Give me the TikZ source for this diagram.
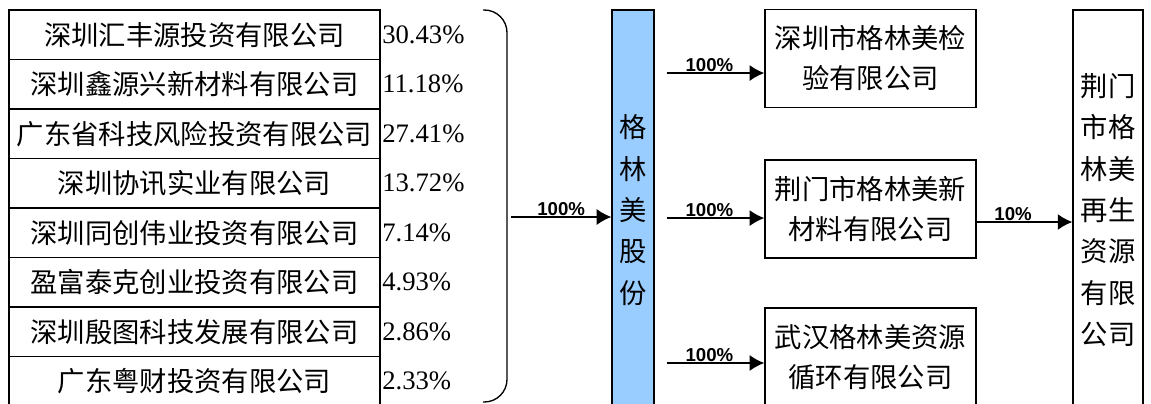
\documentclass[tikz,border=0pt]{standalone}
\usepackage{fontspec}
\setmainfont{Liberation Serif}
\newfontfamily\cjk{Noto Sans CJK SC}
\newfontfamily\lblfont{Liberation Sans}
\usepackage{tikz}
\usetikzlibrary{arrows.meta,positioning}
\definecolor{barblue}{RGB}{153, 204, 255}

\begin{document}
\begin{tikzpicture}[x=0.75pt, y=-0.75pt,
    holder/.style={draw, line width=0.9pt, minimum width=278.25pt, minimum height=37.1pt, inner sep=0pt, font=\cjk\fontsize{20.5}{24}\selectfont},
    pct/.style={anchor=west, inner sep=0pt, font=\fontsize{20}{24}\selectfont},
    subbox/.style={draw, line width=1pt, minimum width=158.25pt, minimum height=73.5pt, align=center, inner sep=0pt, font=\cjk\fontsize{20.5}{30}\selectfont},
    tallbox/.style={draw, line width=0.9pt, minimum height=300pt, inner sep=0pt, align=center, font=\cjk\fontsize{20.5}{31}\selectfont},
    arr/.style={-{Latex[length=11pt,width=12pt]}, line width=1.2pt},
    share/.style={font=\lblfont\bfseries\fontsize{14}{14}\selectfont, inner sep=0.5pt, above}]
    \useasboundingbox (0,0) rectangle (1151,403);

    % shareholders and their stakes
    \foreach \who/\pc [count=\i] in {深圳汇丰源投资有限公司/30.43, 深圳鑫源兴新材料有限公司/11.18,
        广东省科技风险投资有限公司/27.41, 深圳协讯实业有限公司/13.72, 深圳同创伟业投资有限公司/7.14,
        盈富泰克创业投资有限公司/4.93, 深圳殷图科技发展有限公司/2.86, 广东粤财投资有限公司/2.33} {
        \node[holder] (h\i) at (194.5, {-14.75+49.5*\i}) {\who};
        \node[pct] (p\i) at (382, {-14.75+49.5*\i}) {\pc\%};
    }

    % brace round the stakes
    \draw[line width=1pt, rounded corners=17pt] (483,10) -- (507,10) -- (507,402) -- (483,402);
    \coordinate (brc) at (511,217);

    % parent company
    \node[tallbox, fill=barblue, minimum width=31.5pt] (glm) at (633,210) {格\\林\\美\\股\\份};
    \draw[arr] (brc) -- (brc -| glm.west) node[share, midway] {100\%};

    % subsidiaries
    \node[subbox] (k1) at (870.5,58.5) {深圳市格林美检\\验有限公司};
    \node[subbox] (k2) at (870.5,209) {荆门市格林美新\\材料有限公司};
    \node[subbox] (k3) at (870.5,357) {武汉格林美资源\\循环有限公司};

    \coordinate (a1) at ([yshift=-10.9pt]k1.west);
    \coordinate (a2) at ([yshift=-6.8pt]k2.west);
    \coordinate (a3) at ([yshift=-4.5pt]k3.west);
    \foreach \a in {a1,a2,a3}
        \draw[arr, shorten <=9pt] (\a -| glm.east) -- (\a) node[share, midway] {100\%};

    % recycling company
    \node[tallbox, minimum width=52.5pt] (rs) at (1108,210) {荆门\\市格\\林美\\再生\\资源\\有限\\公司};
    \coordinate (b2) at ([yshift=-9.75pt]k2.east);
    \draw[arr] (b2) -- (b2 -| rs.west) node[share, pos=0.38] {10\%};
\end{tikzpicture}
\end{document}
